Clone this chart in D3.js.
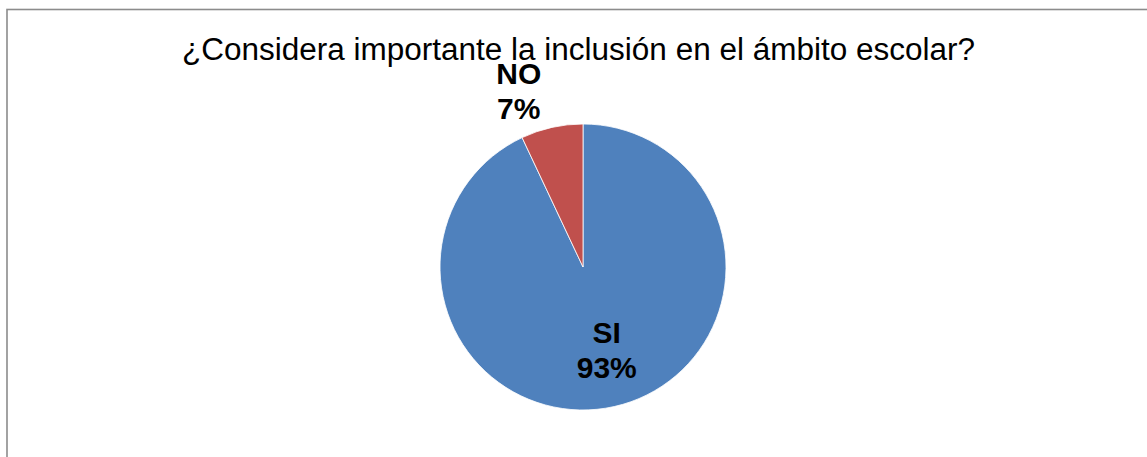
<!DOCTYPE html>
<html><head><meta charset="utf-8">
<script src="https://cdn.jsdelivr.net/npm/d3@7"></script>
<style>body{margin:0;background:#fff}svg{display:block}</style>
</head><body>
<svg id="c" width="1147" height="457"></svg>
<script>
const categories = ["SI", "NO"];
const values = [93, 7];
const colors = ["#4F81BD", "#C0504D"];
const title = "¿Considera importante la inclusión en el ámbito escolar?";

const svg = d3.select("#c");
svg.append("rect").attr("x", 7).attr("y", 9.5).attr("width", 1150).attr("height", 460)
  .attr("fill", "#fff").attr("stroke", "#8c8c8c").attr("stroke-width", 1.6);

svg.append("text").attr("x", 578.5).attr("y", 60).attr("text-anchor", "middle")
  .attr("textLength", 793).attr("lengthAdjust", "spacingAndGlyphs")
  .style("font-family", "'Liberation Sans', Arial, sans-serif").style("font-size", "31px")
  .attr("fill", "#000").text(title);

const cx = 583, cy = 267, r = 143;
const g = svg.append("g").attr("transform", `translate(${cx},${cy})`);
const data = categories.map((c, i) => ({ cat: c, val: values[i], color: colors[i] }));
const pie = d3.pie().value(d => d.val).sort(null);
const arc = d3.arc().innerRadius(0).outerRadius(r);
const arcs = pie(data);

g.selectAll("path").data(arcs).enter().append("path")
  .attr("d", arc).attr("fill", d => d.data.color)
  .attr("stroke", "#fff").attr("stroke-width", 0.8);

const inner = d3.arc().innerRadius(0).outerRadius(r * 1.2);
const outer = d3.arc().innerRadius(r * 1.13).outerRadius(r * 1.13);
const labels = g.selectAll("g.lab").data(arcs).enter().append("g").attr("class", "lab")
  .attr("transform", d => {
    const big = d.data.val > 20;
    const p = big ? inner.centroid(d) : outer.centroid(d);
    const dx = big ? 5 : -29;
    const dy = big ? 0 : -17;
    return `translate(${p[0] + dx},${p[1] + dy})`;
  });
const pct = d3.format(".0%");
const total = d3.sum(values);
labels.append("text").attr("text-anchor", "middle").attr("y", -8)
  .style("font-family", "'Liberation Sans', Arial, sans-serif").style("font-size", "30px")
  .style("font-weight", "bold").text(d => d.data.cat);
labels.append("text").attr("text-anchor", "middle").attr("y", 27)
  .style("font-family", "'Liberation Sans', Arial, sans-serif").style("font-size", "30px")
  .style("font-weight", "bold").text(d => pct(d.data.val / total));
</script>
</body></html>
